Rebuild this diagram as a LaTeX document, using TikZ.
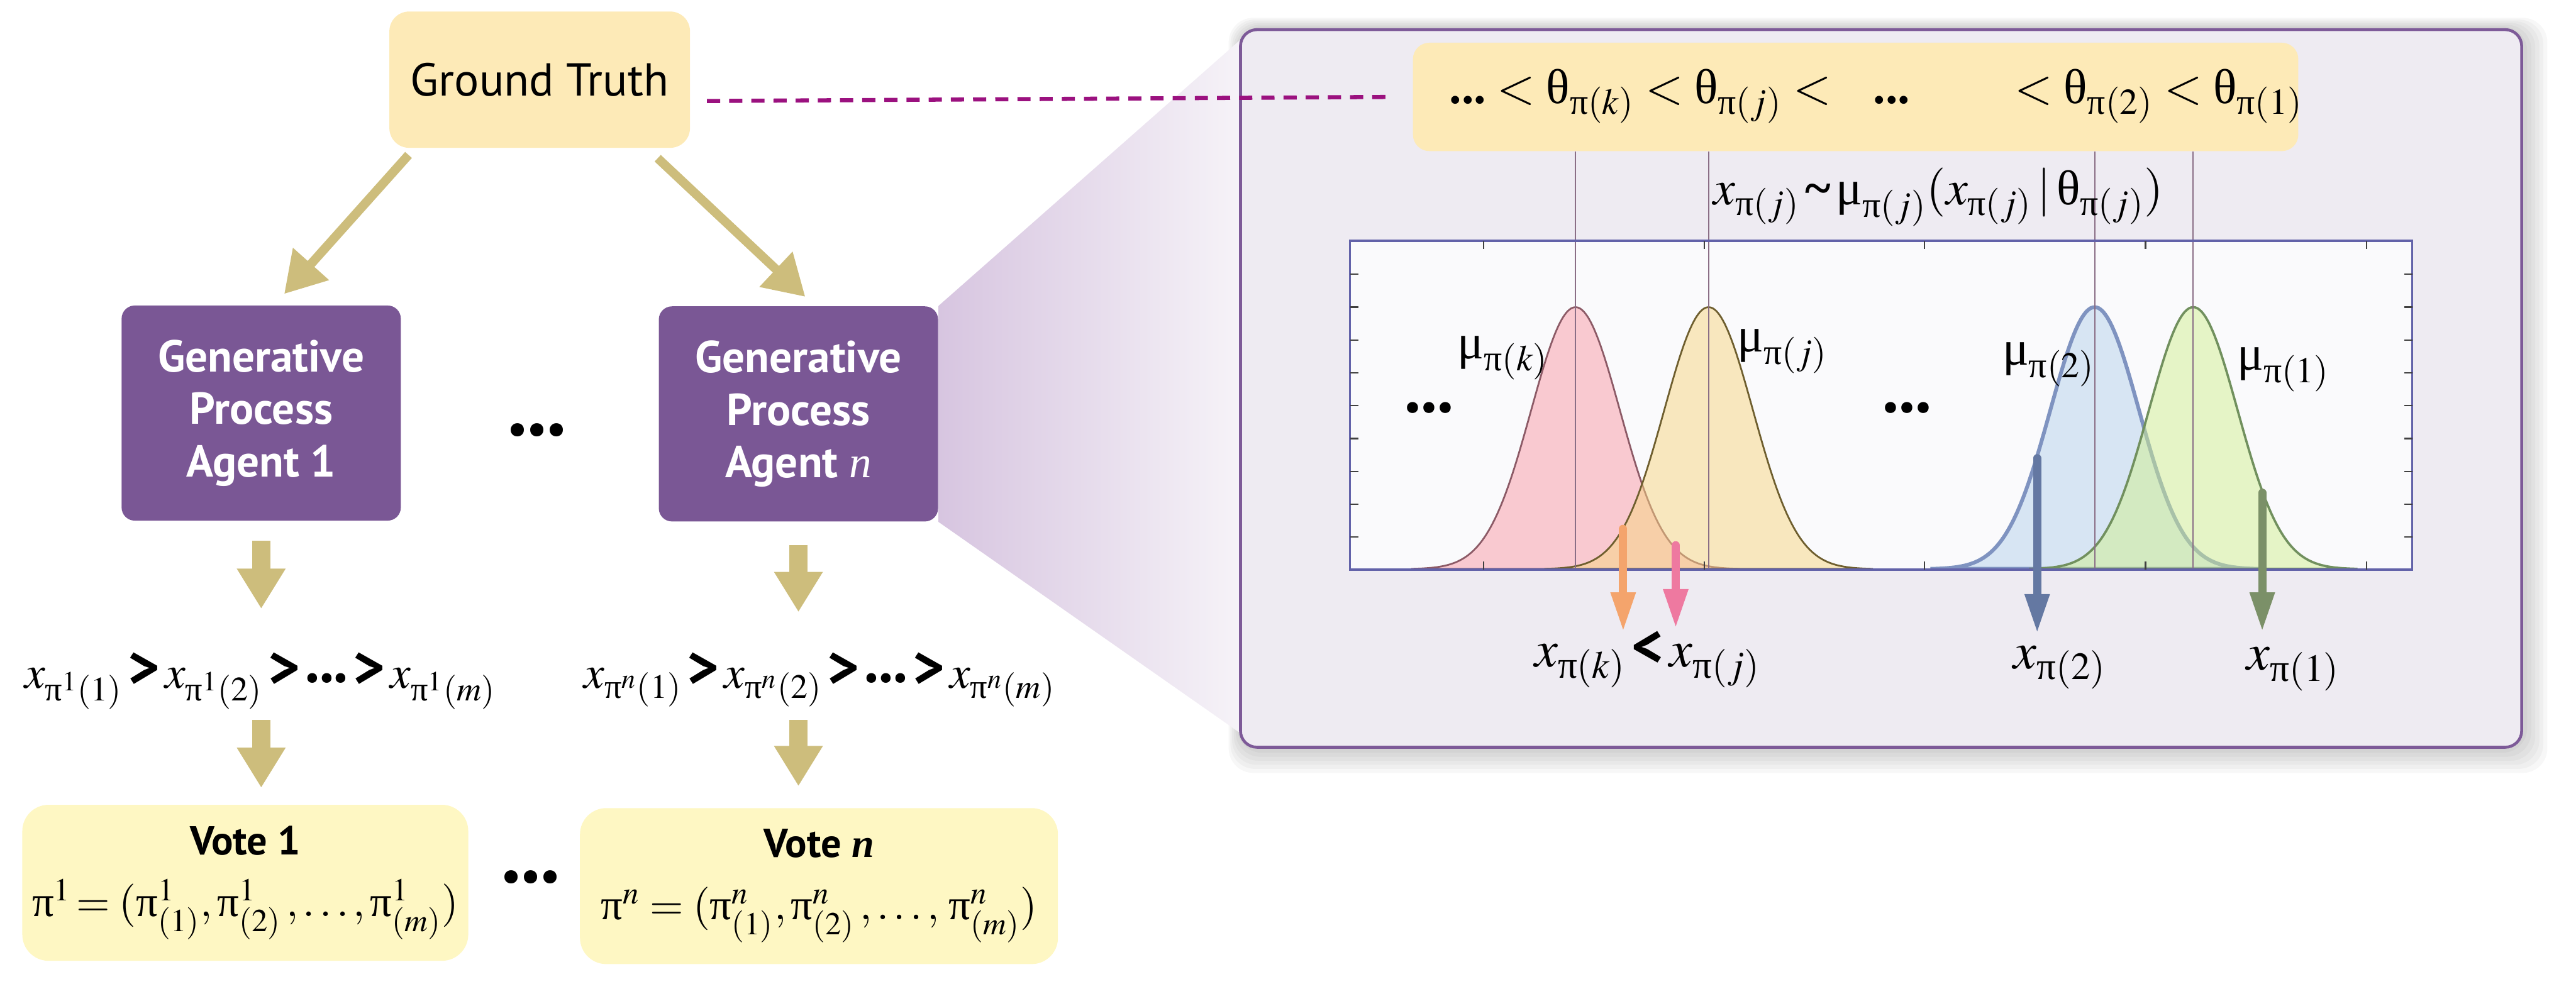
\documentclass[tikz,border=0pt]{standalone}
\usepackage{amsmath}
\usepackage{mathptmx}
\usepackage[no-math]{fontspec}
\setmainfont{PT Sans}
\newfontfamily\grk{Liberation Serif}
\usepackage{xcolor}
\usepackage{tikz}
\usetikzlibrary{arrows.meta, positioning, calc, backgrounds}

\definecolor{gtyellow}{HTML}{FDEAB7}
\definecolor{voteyellow}{HTML}{FEF7C3}
\definecolor{agentpurple}{HTML}{7A5795}
\definecolor{arrowtan}{HTML}{CDBD7C}
\definecolor{dashpurple}{HTML}{9B117F}
\definecolor{panelborder}{HTML}{7D5A98}
\definecolor{panelfill}{HTML}{EEEBF2}
\definecolor{plotframe}{HTML}{6262A9}
\definecolor{plotfill}{HTML}{FAFAFC}
\definecolor{linegray}{HTML}{8A6E86}
\definecolor{coneL}{HTML}{D7C5E0}
\definecolor{coneR}{HTML}{F6F3F8}
\definecolor{pinkA}{HTML}{F99AA5}
\definecolor{pinkB}{HTML}{8C5A66}
\definecolor{yelA}{HTML}{F7D581}
\definecolor{yelB}{HTML}{6E5E2E}
\definecolor{bluA}{HTML}{B5D1EB}
\definecolor{bluB}{HTML}{7F93C0}
\definecolor{grnA}{HTML}{D1EF91}
\definecolor{grnB}{HTML}{71905E}
\definecolor{sOrange}{HTML}{F4A46C}
\definecolor{sPink}{HTML}{EE79A0}
\definecolor{sBlue}{HTML}{6478A2}
\definecolor{sGreen}{HTML}{7B9068}

\newcommand{\gp}{\text{\grk π}}
\newcommand{\gth}{\text{\grk θ}}
\newcommand{\gmu}{\text{\grk μ}}
\newcommand{\ogt}{\mathord{\,\text{\normalfont\bfseries\fontsize{21}{21}\selectfont >}\,}}
\newcommand{\olt}{\mathord{\,\text{\normalfont\bfseries\fontsize{21}{21}\selectfont <}\,}}
\newcommand{\odots}{\text{\normalfont\bfseries\fontsize{11}{11}\selectfont •••}}

\begin{document}
\begin{tikzpicture}[x=0.02cm, y=-0.02cm,
  gtbox/.style={fill=gtyellow, rounded corners=0.24cm, minimum width=3.66cm, minimum height=1.66cm, font=\fontsize{16}{19}\selectfont},
  agent/.style={fill=agentpurple, rounded corners=0.16cm, minimum width=3.4cm, minimum height=2.62cm, text=white, align=center, font=\fontsize{15.5}{18.2}\selectfont\bfseries},
  order/.style={inner sep=0pt, text height=0.36cm, text depth=0.22cm, anchor=base, font=\fontsize{16}{20}\selectfont},
  vote/.style={fill=voteyellow, rounded corners=0.32cm, minimum height=1.9cm, align=center, font=\fontsize{15}{21.4}\selectfont},
  dotsfont/.style={font=\fontsize{15}{15}\selectfont\bfseries},
  tanarrow/.style={draw=arrowtan, line width=0.11cm, -{Triangle[length=0.49cm, width=0.56cm]}},
  downarrow/.style={draw=arrowtan, line width=0.22cm, -{Triangle[length=0.49cm, width=0.56cm]}},
  dashline/.style={draw=dashpurple, line width=0.05cm, dash pattern=on 0.16cm off 0.11cm},
  panel/.style={fill=panelfill, draw=panelborder, line width=1pt, rounded corners=0.2cm, minimum width=15.6cm, minimum height=8.74cm},
  thetabox/.style={fill=gtyellow, rounded corners=0.2cm, minimum width=10.78cm, minimum height=1.32cm},
  mathtext/.style={inner sep=0pt, font=\fontsize{17}{20}\selectfont},
  thetaline/.style={draw=linegray, line width=0.4pt},
  plottick/.style={draw=black!75, line width=0.5pt},
  samplearrow/.style={line width=0.1cm, line cap=round, -{Triangle[length=0.48cm, width=0.28cm]}},
  xval/.style={inner sep=0pt, anchor=base, text height=0.3cm, text depth=0.15cm, font=\fontsize{18}{20}\selectfont}
]
  \useasboundingbox (0,0) rectangle (1568,602);

  % Ground truth and agents
  \node[gtbox] (gt) at (328.5,48.5) {Ground Truth};
  \node[agent] (agent1) at (159,251.5) {Generative\\Process\\Agent 1};
  \node[agent] (agentn) at (486,252) {Generative\\Process\\Agent {\grk\mdseries\itshape n}};
  \node[dotsfont] (adots) at (327,264) {•••};

  \draw[tanarrow, shorten >=0.18cm] ([xshift=0.24cm,yshift=-0.08cm]gt.south west) -- ([xshift=0.16cm]agent1.north);
  \draw[tanarrow, shorten >=0.16cm] ([xshift=-0.4cm,yshift=-0.12cm]gt.south east) -- ([xshift=0.2cm]agentn.north);

  % Rankings
  \node[order] (order1) at (158.5,419) {$x_{\gp^1(1)}\ogt x_{\gp^1(2)}\ogt\odots\ogt x_{\gp^1(m)}$};
  \node[order] (ordern) at (499,419) {$x_{\gp^n(1)}\ogt x_{\gp^n(2)}\ogt\odots\ogt x_{\gp^n(m)}$};

  \draw[downarrow, shorten <=0.24cm, shorten >=0.6cm] (agent1.south) -- (agent1.south |- order1.north);
  \draw[downarrow, shorten <=0.28cm, shorten >=0.56cm] (agentn.south) -- (agentn.south |- ordern.north);

  % Votes
  \node[vote, minimum width=5.43cm] (vote1) at (149.3,537.5) {{\fontsize{14}{14}\selectfont\bfseries Vote 1}\\ $\gp^1\!=(\gp^1_{(1)},\gp^1_{(2)}\,,\ldots,\gp^1_{(m)})$};
  \node[vote, minimum width=5.82cm] (voten) at (498.5,539.5) {{\fontsize{14}{14}\selectfont\bfseries Vote {\grk\itshape n}}\\ $\gp^n=(\gp^n_{(1)},\gp^n_{(2)}\,,\ldots,\,\gp^n_{(m)})$};
  \node[dotsfont] (vdots) at (323,536) {•••};

  \draw[downarrow, shorten <=0.16cm, shorten >=0.2cm] (agent1.south |- order1.south) -- (agent1.south |- vote1.north);
  \draw[downarrow, shorten <=0.16cm, shorten >=0.26cm] (agentn.south |- ordern.south) -- (agentn.south |- voten.north);

  % Zoomed panel
  \node[panel] (panel) at (1145,236.5) {};
  \begin{scope}[on background layer]
    \foreach \s in {1,...,6}
      \fill[black, opacity=0.03, rounded corners=0.3cm] ([xshift=-\s*0.6pt, yshift=-\s*1.4pt]panel.south west) rectangle ([xshift=\s*1.4pt, yshift=\s*0.6pt]panel.north east);
    \shade[left color=coneL, right color=coneR] (agentn.north east) -- ([xshift=0.04cm,yshift=-0.12cm]panel.north west) -- ([yshift=0.2cm]panel.south west) -- (agentn.south east) -- cycle;
  \end{scope}

  \node[thetabox] (theta) at (1129.5,59) {};
  \draw[dashline] ([xshift=0.2cm,yshift=-0.26cm]gt.east) -- ([xshift=-0.22cm]theta.west);

  \node[mathtext, anchor=base west] (thleft) at (882,63) {$\text{\grk\bfseries...}<\gth_{\gp(k)}<\gth_{\gp(j)}<$};
  \node[mathtext, anchor=base west] (thmid) at (1140,63) {\grk\bfseries ...};
  \node[mathtext, anchor=base west] (thright) at (1226,63) {$<\gth_{\gp(2)}<\gth_{\gp(1)}$};

  % Densities
  \node[fill=plotfill, minimum width=12.92cm, minimum height=3.99cm, inner sep=0pt] (chart) at (1145,246.75) {};
  \foreach \m/\fc/\dc/\w in {959/pinkA/pinkB/0.6pt, 1040/yelA/yelB/0.6pt, 1275/bluA/bluB/1.3pt, 1335/grnA/grnB/0.8pt}
    \filldraw[fill=\fc, fill opacity=0.5, draw=\dc, line width=\w] plot[domain=-100:100, samples=81, smooth] ({\m+\x},{346.5-159.5*exp(-(\x*\x)/1458)}) -- cycle;

  \foreach \m in {959,1040,1275,1335}
    \draw[thetaline] (\m,0 |- theta.south) -- (\m,0 |- chart.south);

  \node[mathtext] (law) at (1180,120) {$x_{\gp(j)}\,\text{\grk\bfseries\textasciitilde}\,\gmu_{\gp(j)}(x_{\gp(j)}\,|\,\gth_{\gp(j)})$};

  \draw[draw=plotframe, line width=0.8pt] (chart.south west) rectangle (chart.north east);
  \foreach \t in {903,1037.5,1171.5,1306,1440.5} {
    \draw[plottick] (\t,0 |- chart.north) -- ++(0,5);
    \draw[plottick] (\t,0 |- chart.south) -- ++(0,-5);
  }
  \foreach \t in {167,187,...,327} {
    \draw[plottick] (chart.west |- 0,\t) -- ++(5,0);
    \draw[plottick] (chart.east |- 0,\t) -- ++(-5,0);
  }

  \node[dotsfont, font=\fontsize{12.5}{12.5}\selectfont\bfseries] (pdots1) at (870,250) {•••};
  \node[dotsfont, font=\fontsize{12.5}{12.5}\selectfont\bfseries] (pdots2) at (1161,250) {•••};
  \node[mathtext] (muk) at (915,218) {$\gmu_{\gp(k)}$};
  \node[mathtext] (muj) at (1085,214) {$\gmu_{\gp(j)}$};
  \node[mathtext] (mu2) at (1247,222) {$\gmu_{\gp(2)}$};
  \node[mathtext] (mu1) at (1390,225) {$\gmu_{\gp(1)}$};

  % Samples
  \coordinate (sk) at (988,322);
  \coordinate (sj) at (1020,332);
  \coordinate (s2) at (1240,279);
  \coordinate (s1) at (1377,300);
  \node[xval] (xkj) at (1003,406) {$x_{\gp(k)}\olt x_{\gp(j)}$};
  \node[xval] (x2) at (1254,407) {$x_{\gp(2)}$};
  \node[xval] (x1) at (1396,408) {$x_{\gp(1)}$};

  \draw[samplearrow, sOrange, shorten >=0.12cm] (sk) -- (sk |- xkj.north);
  \draw[samplearrow, sPink, shorten >=0.16cm] (sj) -- (sj |- xkj.north);
  \draw[samplearrow, sBlue, shorten >=0.12cm] (s2) -- (s2 |- x2.north);
  \draw[samplearrow, sGreen, shorten >=0.16cm] (s1) -- (s1 |- x1.north);
\end{tikzpicture}
\end{document}
